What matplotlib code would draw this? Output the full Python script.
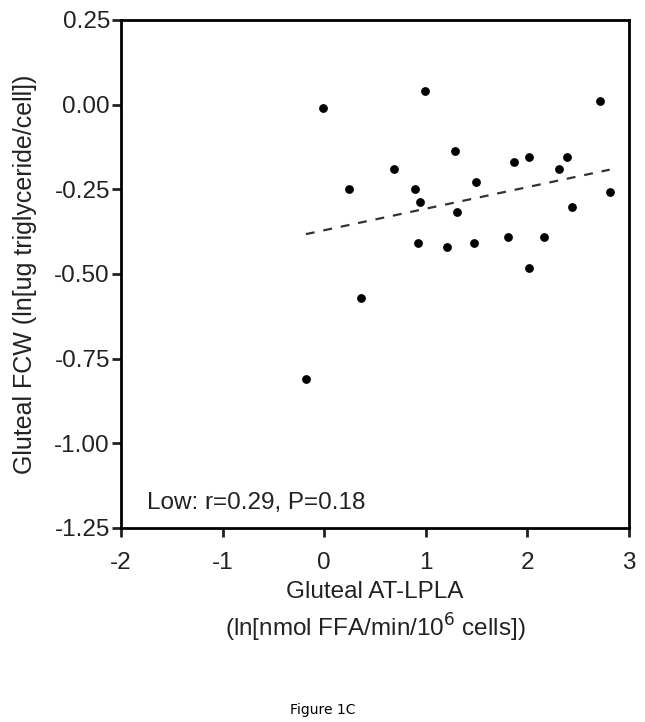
import matplotlib
matplotlib.use("Agg")
import matplotlib.pyplot as plt
import numpy as np

plt.rcParams['font.family'] = ['Liberation Sans', 'DejaVu Sans']
plt.rcParams['axes.unicode_minus'] = False

# Gluteal AT-LPLA vs gluteal FCW (low group)
lpla = np.array([-0.01, 0.99, 2.71, 1.29, 0.69, 1.87, 2.02, 2.39, 2.31, 0.24, 0.89, 1.49,
                 2.81, 0.94, 1.31, 2.44, 0.92, 1.21, 1.47, 1.81, 2.16, 2.02, 0.36, -0.18])
fcw = np.array([-0.011, 0.041, 0.011, -0.138, -0.19, -0.168, -0.154, -0.154, -0.19, -0.25, -0.25, -0.227,
                -0.257, -0.288, -0.318, -0.302, -0.407, -0.421, -0.407, -0.392, -0.392, -0.482, -0.57, -0.81])

xticks = [-2, -1, 0, 1, 2, 3]
yticks = [0.25, 0.00, -0.25, -0.50, -0.75, -1.00, -1.25]

fig = plt.figure(figsize=(6.45, 7.22), dpi=100)
ax = fig.add_axes([0.1876, 0.2687, 0.7876, 0.7036])

ax.scatter(lpla, fcw, s=28, color='black', zorder=3)

# regression line
slope, icpt = np.polyfit(lpla, fcw, 1)
xl = np.array([lpla.min(), lpla.max()])
ax.plot(xl, slope * xl + icpt, color='#333333', linestyle=(0, (4, 4)), linewidth=1.6)

ax.set_xlim(-2, 3)
ax.set_ylim(-1.25, 0.25)
ax.set_xticks(xticks)
ax.set_yticks(yticks)
ax.set_yticklabels(['%.2f' % v for v in yticks])
ax.tick_params(direction='out', length=6.5, width=2, labelsize=17.5, pad=1.5, colors='#222222')
ax.tick_params(axis='x', pad=11)
for sp in ax.spines.values():
    sp.set_linewidth(2)

ax.set_xlabel("Gluteal AT-LPLA\n(ln[nmol FFA/min/10$^{6}$ cells])", fontsize=17.5,
              linespacing=1.35, labelpad=5, color='#222222')
ax.set_ylabel("Gluteal FCW (ln[ug triglyceride/cell])", fontsize=18, color='#222222')
ax.yaxis.set_label_coords(-0.165, 0.5)
ax.text(0.051, 0.049, "Low: r=0.29, P=0.18", transform=ax.transAxes, fontsize=17.5,
        va='center', color='#222222')

fig.text(0.5, 0.016, "Figure 1C", ha='center', va='center', family='DejaVu Sans', fontsize=10)

plt.savefig("out.png", dpi=100)
